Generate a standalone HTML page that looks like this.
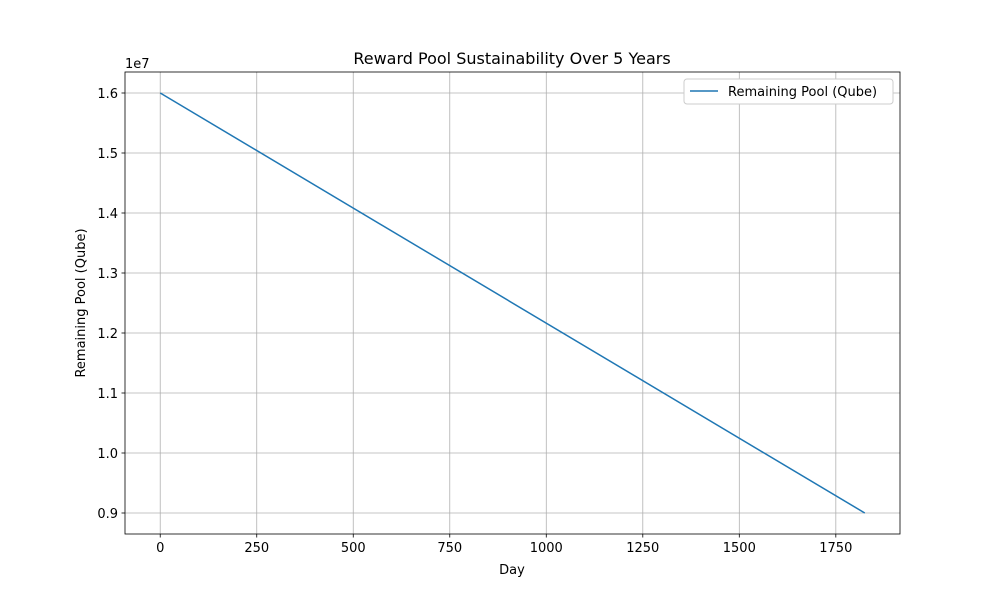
<!DOCTYPE html>
<html><head><meta charset="utf-8"><style>
body{margin:0;background:#fff;font-family:"Liberation Sans","DejaVu Sans",sans-serif}
svg text{font-family:"DejaVu Sans","Liberation Sans",sans-serif;fill:#000}
</style></head><body>
<svg id="chart" width="1000" height="600">
<rect width="1000" height="600" fill="#fff"/>
<g id="grid"></g><g id="ticks"></g><g id="series"></g>
<rect x="125" y="72" width="775" height="462" fill="none" stroke="#000" stroke-width="0.8"/>
<text x="512" y="64" font-size="16" text-anchor="middle">Reward Pool Sustainability Over 5 Years</text>
<text x="512" y="574" font-size="13" text-anchor="middle">Day</text>
<text transform="translate(85,303) rotate(-90)" font-size="13" text-anchor="middle">Remaining Pool (Qube)</text>
<text x="125" y="68" font-size="13">1e7</text>
<g>
<rect x="684" y="79" width="209" height="25" rx="3" fill="#fff" stroke="#ccc"/>
<line x1="690" y1="91" x2="718" y2="91" stroke="#1f77b4" stroke-width="1.5"/>
<text x="728" y="96" font-size="13">Remaining Pool (Qube)</text>
</g>
</svg>
<script>
const days=[0,1825];
const pool=[16.0e6,9.0e6];
const xTicks=[0,250,500,750,1000,1250,1500,1750];
const yTicks=[9e6,10e6,11e6,12e6,13e6,14e6,15e6,16e6];
const L=125,R=900,T=72,B=534;
const xmin=-91.25,xmax=1916.25,ymin=8.65e6,ymax=16.35e6;
const xs=v=>L+(v-xmin)/(xmax-xmin)*(R-L);
const ys=v=>B-(v-ymin)/(ymax-ymin)*(B-T);
const NS="http://www.w3.org/2000/svg";
const g=document.getElementById('grid'),tk=document.getElementById('ticks'),se=document.getElementById('series');
function mk(tag,a,p){const e=document.createElementNS(NS,tag);for(const k in a)e.setAttribute(k,a[k]);p.appendChild(e);return e;}
xTicks.forEach(v=>{const x=xs(v);
const l=mk('line',{x1:x,x2:x,y1:T,y2:B,stroke:'#b0b0b0','stroke-width':0.8},g);


mk('line',{x1:x,x2:x,y1:B,y2:B+3.5,stroke:'#000','stroke-width':0.8},tk);
const t=mk('text',{x:x,y:B+18,'font-size':13,'text-anchor':'middle'},tk);t.textContent=v;

});
yTicks.forEach(v=>{const y=ys(v);
const l=mk('line',{x1:L,x2:R,y1:y,y2:y,stroke:'#b0b0b0','stroke-width':0.8},g);


mk('line',{x1:L-3.5,x2:L,y1:y,y2:y,stroke:'#000','stroke-width':0.8},tk);
const t=mk('text',{x:L-7,y:y+5,'font-size':13,'text-anchor':'end'},tk);t.textContent=(v/1e7).toFixed(1);

});
const pts=days.map((d,i)=>xs(d)+','+ys(pool[i])).join(' ');
const pl=mk('polyline',{points:pts,fill:'none',stroke:'#1f77b4','stroke-width':1.5},se);


</script>
</body></html>
